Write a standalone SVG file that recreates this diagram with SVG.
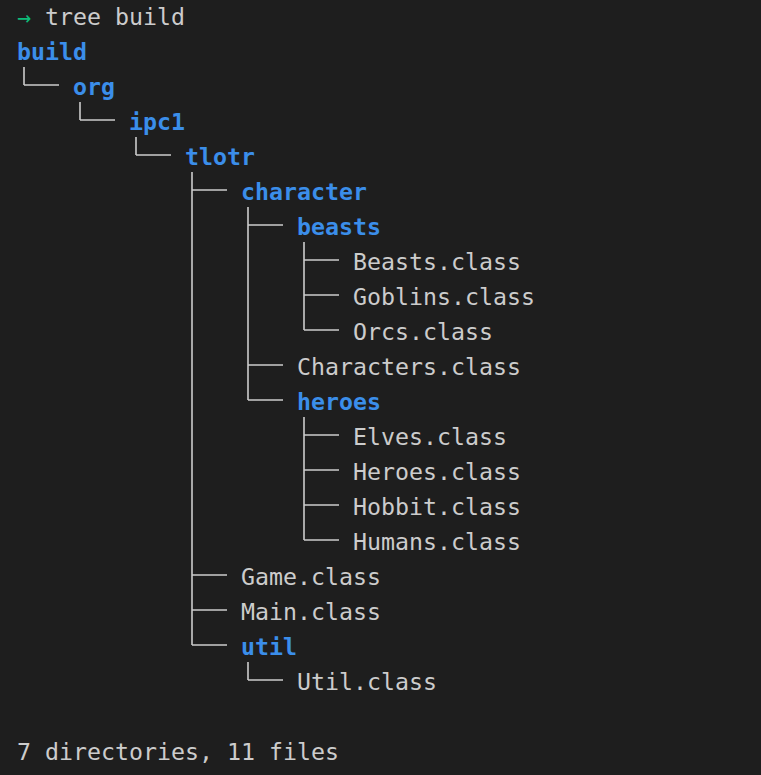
<svg xmlns="http://www.w3.org/2000/svg" width="761" height="775" viewBox="0 0 761 775">
<style>
text{font-family:"DejaVu Sans Mono","Liberation Mono",monospace;font-size:23.25px;fill:#cccccc}
.d{fill:#3b8eea;font-weight:bold}
.g{fill:#0dbc79}
.c line{stroke:#cccccc;stroke-width:1.6}
</style>
<rect width="761" height="775" fill="#1e1e1e"/>
<g id="prompt"><text x="17" y="25" class="g">→</text><text x="45" y="25">tree build</text></g>
<g class="c" id="connectors">
<line x1="24" y1="67" x2="24" y2="85"/><line x1="24" y1="85" x2="59" y2="85"/>
<line x1="80" y1="102" x2="80" y2="120"/><line x1="80" y1="120" x2="115" y2="120"/>
<line x1="136" y1="137" x2="136" y2="155"/><line x1="136" y1="155" x2="171" y2="155"/>
<line x1="192" y1="172" x2="192" y2="645"/>
<line x1="192" y1="190" x2="227" y2="190"/>
<line x1="192" y1="575" x2="227" y2="575"/>
<line x1="192" y1="610" x2="227" y2="610"/>
<line x1="192" y1="645" x2="227" y2="645"/>
<line x1="248" y1="207" x2="248" y2="400"/>
<line x1="248" y1="225" x2="283" y2="225"/>
<line x1="248" y1="365" x2="283" y2="365"/>
<line x1="248" y1="400" x2="283" y2="400"/>
<line x1="248" y1="662" x2="248" y2="680"/><line x1="248" y1="680" x2="283" y2="680"/>
<line x1="304" y1="242" x2="304" y2="330"/>
<line x1="304" y1="260" x2="339" y2="260"/>
<line x1="304" y1="295" x2="339" y2="295"/>
<line x1="304" y1="330" x2="339" y2="330"/>
<line x1="304" y1="417" x2="304" y2="540"/>
<line x1="304" y1="435" x2="339" y2="435"/>
<line x1="304" y1="470" x2="339" y2="470"/>
<line x1="304" y1="505" x2="339" y2="505"/>
<line x1="304" y1="540" x2="339" y2="540"/>
</g>
<g id="build"><text x="17" y="60" class="d">build</text></g>
<g id="org"><text x="73" y="95" class="d">org</text></g>
<g id="ipc1"><text x="129" y="130" class="d">ipc1</text></g>
<g id="tlotr"><text x="185" y="165" class="d">tlotr</text></g>
<g id="character"><text x="241" y="200" class="d">character</text></g>
<g id="beasts"><text x="297" y="235" class="d">beasts</text></g>
<g id="Beasts"><text x="353" y="270">Beasts.class</text></g>
<g id="Goblins"><text x="353" y="305">Goblins.class</text></g>
<g id="Orcs"><text x="353" y="340">Orcs.class</text></g>
<g id="Characters"><text x="297" y="375">Characters.class</text></g>
<g id="heroes"><text x="297" y="410" class="d">heroes</text></g>
<g id="Elves"><text x="353" y="445">Elves.class</text></g>
<g id="Heroes"><text x="353" y="480">Heroes.class</text></g>
<g id="Hobbit"><text x="353" y="515">Hobbit.class</text></g>
<g id="Humans"><text x="353" y="550">Humans.class</text></g>
<g id="Game"><text x="241" y="585">Game.class</text></g>
<g id="Main"><text x="241" y="620">Main.class</text></g>
<g id="util"><text x="241" y="655" class="d">util</text></g>
<g id="Util"><text x="297" y="690">Util.class</text></g>
<g id="summary"><text x="17" y="760">7 directories, 11 files</text></g>
</svg>
